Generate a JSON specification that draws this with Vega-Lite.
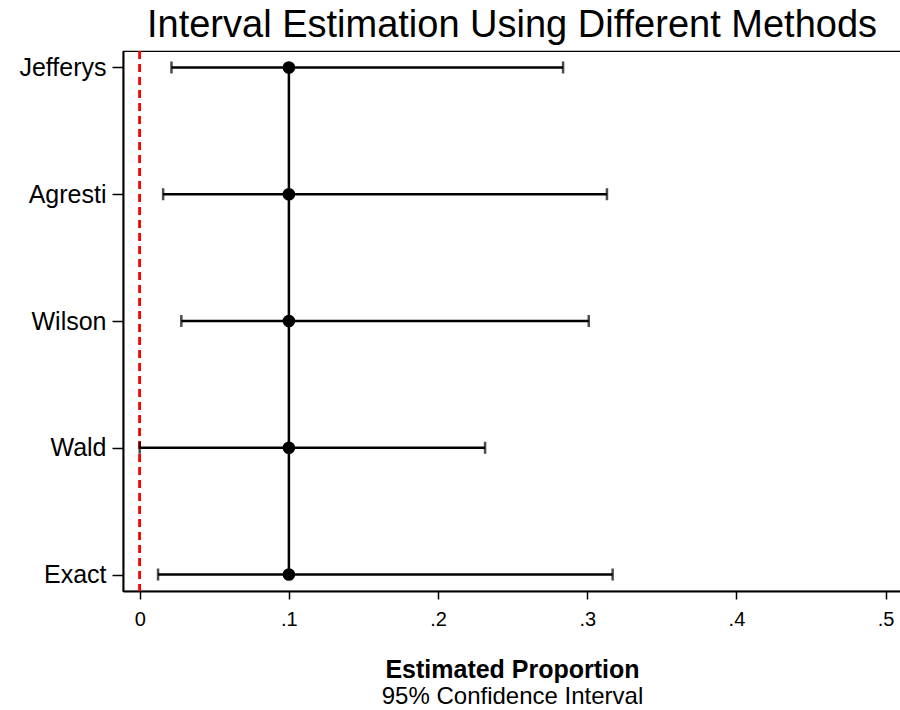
{
  "$schema": "https://vega.github.io/schema/vega-lite/v6.json",
  "width": 778,
  "height": 540,
  "autosize": {"type": "none"},
  "padding": {"left": 123, "top": 51, "right": 0, "bottom": 119},
  "background": "white",
  "config": {
    "font": "Liberation Sans",
    "view": {"stroke": "#000", "strokeWidth": 1.2},
    "axis": {"grid": false}
  },
  "title": {
    "text": "Interval Estimation Using Different Methods",
    "fontSize": 38,
    "fontWeight": "normal",
    "font": "Liberation Sans",
    "color": "#000",
    "anchor": "middle",
    "frame": "group",
    "offset": 5
  },
  "data": {
    "values": [
      {"method": "Jefferys", "ord": 1, "est": 0.1, "lo": 0.0213, "hi": 0.2838},
      {"method": "Agresti", "ord": 2, "est": 0.1, "lo": 0.0157, "hi": 0.3132},
      {"method": "Wilson", "ord": 3, "est": 0.1, "lo": 0.0279, "hi": 0.301},
      {"method": "Wald", "ord": 4, "est": 0.1, "lo": 0.0, "hi": 0.2315},
      {"method": "Exact", "ord": 5, "est": 0.1, "lo": 0.0123, "hi": 0.317}
    ]
  },
  "resolve": {"axis": {"x": "independent"}},
  "layer": [
    {
      "mark": {"type": "rule", "color": "#ff0000", "strokeWidth": 2, "strokeDash": [8, 5]},
      "encoding": {
        "x": {
          "datum": 0,
          "type": "quantitative",
          "scale": {"domain": [-0.0112, 0.5103], "nice": false, "zero": false},
          "axis": {
            "orient": "bottom",
            "title": "95% Confidence Interval",
            "titleFontSize": 24,
            "titleFontWeight": "normal",
            "titleColor": "#000",
            "titlePadding": 93,
            "labels": false,
            "ticks": false,
            "domain": false
          }
        }
      }
    },
    {
      "mark": {"type": "line", "color": "#000", "strokeWidth": 2.5},
      "encoding": {
        "x": {
          "field": "est",
          "type": "quantitative",
          "scale": {"domain": [-0.0112, 0.5103], "nice": false, "zero": false},
          "axis": {
            "orient": "bottom",
            "title": "Estimated Proportion",
            "titleFontSize": 25,
            "titleFontWeight": "bold",
            "titleColor": "#000",
            "titlePadding": 28,
            "values": [0, 0.1, 0.2, 0.3, 0.4, 0.5],
            "labelExpr": "datum.value == 0 ? '0' : replace(format(datum.value, '.1f'), '0.', '.')",
            "labelFontSize": 20,
            "labelColor": "#000",
            "labelPadding": 10,
            "tickSize": 8,
            "tickColor": "#000",
            "tickWidth": 1.5,
            "domainColor": "#000",
            "domainWidth": 2
          }
        },
        "y": {
          "field": "method",
          "type": "nominal",
          "sort": ["Jefferys", "Agresti", "Wilson", "Wald", "Exact"],
          "scale": {"type": "point", "padding": 0.13},
          "axis": {
            "title": null,
            "labelFontSize": 25,
            "labelColor": "#000",
            "labelPadding": 6,
            "tickSize": 11,
            "tickColor": "#000",
            "tickWidth": 1.5,
            "domainColor": "#000",
            "domainWidth": 2
          }
        },
        "order": {"field": "ord", "type": "quantitative"}
      }
    },
    {
      "mark": {"type": "rule", "color": "#000", "strokeWidth": 2.5},
      "encoding": {
        "x": {"field": "lo", "type": "quantitative", "axis": null},
        "x2": {"field": "hi"},
        "y": {"field": "method", "type": "nominal", "sort": ["Jefferys", "Agresti", "Wilson", "Wald", "Exact"]}
      }
    },
    {
      "mark": {"type": "tick", "color": "#000", "thickness": 2.5, "size": 12, "orient": "vertical"},
      "encoding": {
        "x": {"field": "lo", "type": "quantitative", "axis": null},
        "y": {"field": "method", "type": "nominal", "sort": ["Jefferys", "Agresti", "Wilson", "Wald", "Exact"]}
      }
    },
    {
      "mark": {"type": "tick", "color": "#000", "thickness": 2.5, "size": 12, "orient": "vertical"},
      "encoding": {
        "x": {"field": "hi", "type": "quantitative", "axis": null},
        "y": {"field": "method", "type": "nominal", "sort": ["Jefferys", "Agresti", "Wilson", "Wald", "Exact"]}
      }
    },
    {
      "mark": {"type": "point", "filled": true, "color": "#000", "opacity": 1, "size": 160},
      "encoding": {
        "x": {"field": "est", "type": "quantitative", "axis": null},
        "y": {"field": "method", "type": "nominal", "sort": ["Jefferys", "Agresti", "Wilson", "Wald", "Exact"]}
      }
    }
  ]
}
